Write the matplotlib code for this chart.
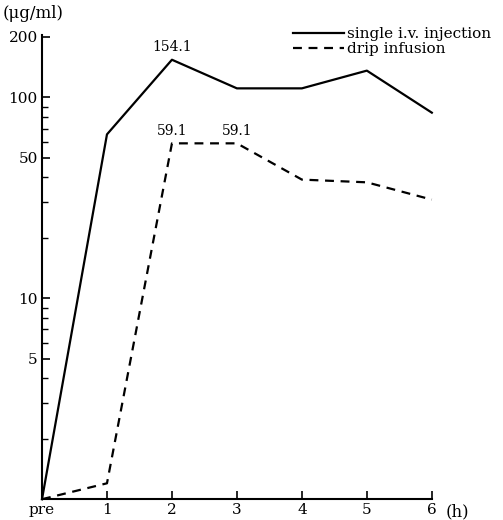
import matplotlib
matplotlib.use("Agg")
import matplotlib.pyplot as plt
from matplotlib.ticker import FixedLocator, NullFormatter

# data
hours = [0, 1, 2, 3, 4, 5, 6]
hour_labels = ['pre', '1', '2', '3', '4', '5', '6']
single_iv = [1.0, 65.5, 154.1, 111, 111, 136, 84]
drip = [1.0, 1.2, 59.1, 59.1, 39, 37.8, 31]

y_major = [5, 10, 50, 100, 200]
y_minor = [2, 3, 4, 6, 7, 8, 9, 20, 30, 40, 60, 70, 80, 90]

plt.rcParams['font.family'] = ['DejaVu Serif']
f_size = 11

fig = plt.figure(figsize=(5.03, 5.20), dpi=100)
ax = fig.add_axes([0.0835, 0.040, 0.775, 0.893])

ax.plot(hours, single_iv, color='black', linewidth=1.6, label='single i.v. injection',
        clip_on=False)
ax.plot(hours, drip, color='black', linewidth=1.6, linestyle=(0, (4, 3)),
        label='drip infusion', clip_on=False)

# value labels
ax.annotate('154.1', (2, single_iv[2]), xytext=(0, 4), textcoords='offset points',
            ha='center', va='bottom', fontsize=f_size - 1)
ax.annotate('59.1', (2, drip[2]), xytext=(0, 4), textcoords='offset points',
            ha='center', va='bottom', fontsize=f_size - 1)
ax.annotate('59.1', (3, drip[3]), xytext=(0, 4), textcoords='offset points',
            ha='center', va='bottom', fontsize=f_size - 1)

ax.set_yscale('log')
ax.set_ylim(1.0, 205)
ax.set_xlim(0, 6)

ax.yaxis.set_major_locator(FixedLocator(y_major))
ax.yaxis.set_minor_locator(FixedLocator(y_minor))
ax.yaxis.set_minor_formatter(NullFormatter())
ax.set_yticklabels([str(v) for v in y_major])
ax.set_xticks(hours)
ax.set_xticklabels(hour_labels)

ax.tick_params(axis='both', which='major', direction='in', length=6, width=1.2,
               labelsize=f_size, pad=3)
ax.tick_params(axis='y', which='minor', direction='in', length=4, width=1.0)

ax.spines['top'].set_visible(False)
ax.spines['right'].set_visible(False)
ax.spines['left'].set_linewidth(1.5)
ax.spines['bottom'].set_linewidth(1.5)

fig.text(0.005, 0.975, '(\u03bcg/ml)', fontsize=f_size + 1, ha='left', va='center')
fig.text(0.885, 0.015, '(h)', fontsize=f_size + 1, ha='left', va='center')

ax.legend(loc='upper left', bbox_to_anchor=(0.55, 0.98), bbox_transform=fig.transFigure,
          frameon=False, fontsize=f_size, handlelength=3.3, handletextpad=0.2,
          labelspacing=0.05, borderpad=0.6)

fig.savefig("out.png", dpi=100)
